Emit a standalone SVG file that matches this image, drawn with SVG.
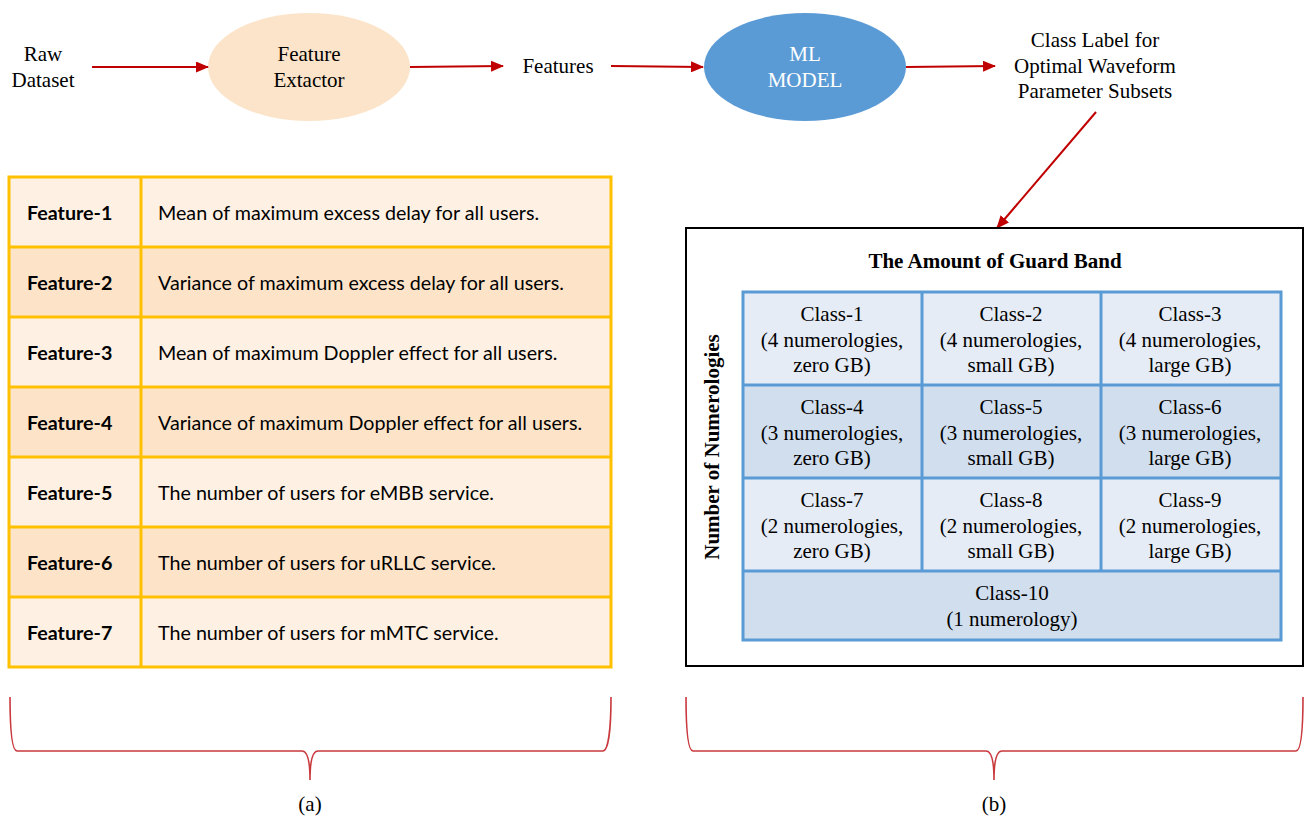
<svg xmlns="http://www.w3.org/2000/svg" width="1309" height="822" viewBox="0 0 1309 822">
<style>
.t{font-family:"Liberation Serif","Times New Roman",serif;font-size:21px;fill:#000;text-anchor:middle}
.tb{font-family:"Liberation Serif","Times New Roman",serif;font-size:21px;font-weight:bold;fill:#000;text-anchor:middle}
.fl{font-family:Lato,"Liberation Sans",sans-serif;font-size:19.7px;font-weight:bold;fill:#000}
.fd{font-family:Lato,"Liberation Sans",sans-serif;font-size:19.7px;fill:#000}
.arr{stroke:#C00000;stroke-width:2;fill:none;marker-end:url(#ah)}
.brace{stroke:#C8383C;stroke-width:1.6;fill:none}
.frow1{fill:#FEF1E3}
.frow2{fill:#FDE4C9}
.fgrid{stroke:#FFC000;stroke-width:3;fill:none}
.c1{fill:#E5ECF6}
.c2{fill:#D0DEEE}
.cgrid{stroke:#5B9BD5;stroke-width:3;fill:none}
</style>
<defs>
<marker id="ah" markerWidth="13" markerHeight="11" refX="12" refY="5.5" orient="auto" markerUnits="userSpaceOnUse" viewBox="0 0 13 11">
<path d="M0,0 L13,5.5 L0,11 Z" fill="#C00000"/>
</marker>
</defs>
<rect width="1309" height="822" fill="#fff"/>

<g id="raw-dataset">
<text class="t" x="43" y="61">Raw</text>
<text class="t" x="43" y="87">Dataset</text>
</g>
<g id="feature-extractor">
<ellipse cx="309" cy="67" rx="101" ry="54" fill="#FCE4CA"/>
<text class="t" x="309" y="61">Feature</text>
<text class="t" x="309" y="87">Extactor</text>
</g>
<g id="features">
<text class="t" x="558" y="73">Features</text>
</g>
<g id="ml-model">
<ellipse cx="805" cy="67" rx="101" ry="54" fill="#5B9BD5"/>
<text class="t" x="805" y="61" style="fill:#fff">ML</text>
<text class="t" x="805" y="87" style="fill:#fff">MODEL</text>
</g>
<g id="class-label">
<text class="t" x="1095" y="47">Class Label for</text>
<text class="t" x="1095" y="73">Optimal Waveform</text>
<text class="t" x="1095" y="98">Parameter Subsets</text>
</g>

<g id="connectors">
<line class="arr" x1="92" y1="67" x2="208" y2="67"/>
<line class="arr" x1="410" y1="67" x2="503" y2="66"/>
<line class="arr" x1="611" y1="66" x2="703" y2="67"/>
<line class="arr" x1="906" y1="67" x2="995" y2="66"/>
<line class="arr" x1="1096" y1="112" x2="997" y2="228"/>
</g>

<g id="feature-table">
<rect class="frow1" x="9" y="177" width="602" height="70"/>
<rect class="frow2" x="9" y="247" width="602" height="70"/>
<rect class="frow1" x="9" y="317" width="602" height="70"/>
<rect class="frow2" x="9" y="387" width="602" height="70"/>
<rect class="frow1" x="9" y="457" width="602" height="70"/>
<rect class="frow2" x="9" y="527" width="602" height="70"/>
<rect class="frow1" x="9" y="597" width="602" height="70"/>
<rect class="fgrid" x="9" y="177" width="602" height="490"/>
<path class="fgrid" d="M9,247H611M9,317H611M9,387H611M9,457H611M9,527H611M9,597H611M141,177V667"/>
<text class="fl" x="27" y="220">Feature-1</text>
<text class="fd" x="158" y="220">Mean of maximum excess delay for all users.</text>
<text class="fl" x="27" y="290">Feature-2</text>
<text class="fd" x="158" y="290">Variance of maximum excess delay for all users.</text>
<text class="fl" x="27" y="360">Feature-3</text>
<text class="fd" x="158" y="360">Mean of maximum Doppler effect for all users.</text>
<text class="fl" x="27" y="430">Feature-4</text>
<text class="fd" x="158" y="430">Variance of maximum Doppler effect for all users.</text>
<text class="fl" x="27" y="500">Feature-5</text>
<text class="fd" x="158" y="500">The number of users for eMBB service.</text>
<text class="fl" x="27" y="570">Feature-6</text>
<text class="fd" x="158" y="570">The number of users for uRLLC service.</text>
<text class="fl" x="27" y="640">Feature-7</text>
<text class="fd" x="158" y="640">The number of users for mMTC service.</text>
</g>

<g id="class-box">
<rect x="686" y="228" width="617" height="438" fill="#fff" stroke="#000" stroke-width="2"/>
<text class="tb" x="995" y="268">The Amount of Guard Band</text>
<text class="tb" x="0" y="0" transform="translate(719,447) rotate(-90)">Number of Numerologies</text>
<rect class="c1" x="743" y="292" width="538" height="93"/>
<rect class="c2" x="743" y="385" width="538" height="93"/>
<rect class="c1" x="743" y="478" width="538" height="93"/>
<rect class="c2" x="743" y="571" width="538" height="69"/>
<rect class="cgrid" x="743" y="292" width="538" height="348"/>
<path class="cgrid" d="M743,385H1281M743,478H1281M743,571H1281M922,292V571M1101,292V571"/>
<text class="t" x="832" y="321">Class-1</text>
<text class="t" x="832" y="347">(4 numerologies,</text>
<text class="t" x="832" y="372">zero GB)</text>
<text class="t" x="1011" y="321">Class-2</text>
<text class="t" x="1011" y="347">(4 numerologies,</text>
<text class="t" x="1011" y="372">small GB)</text>
<text class="t" x="1190" y="321">Class-3</text>
<text class="t" x="1190" y="347">(4 numerologies,</text>
<text class="t" x="1190" y="372">large GB)</text>
<text class="t" x="832" y="414">Class-4</text>
<text class="t" x="832" y="440">(3 numerologies,</text>
<text class="t" x="832" y="465">zero GB)</text>
<text class="t" x="1011" y="414">Class-5</text>
<text class="t" x="1011" y="440">(3 numerologies,</text>
<text class="t" x="1011" y="465">small GB)</text>
<text class="t" x="1190" y="414">Class-6</text>
<text class="t" x="1190" y="440">(3 numerologies,</text>
<text class="t" x="1190" y="465">large GB)</text>
<text class="t" x="832" y="507">Class-7</text>
<text class="t" x="832" y="533">(2 numerologies,</text>
<text class="t" x="832" y="558">zero GB)</text>
<text class="t" x="1011" y="507">Class-8</text>
<text class="t" x="1011" y="533">(2 numerologies,</text>
<text class="t" x="1011" y="558">small GB)</text>
<text class="t" x="1190" y="507">Class-9</text>
<text class="t" x="1190" y="533">(2 numerologies,</text>
<text class="t" x="1190" y="558">large GB)</text>
<text class="t" x="1012" y="600">Class-10</text>
<text class="t" x="1012" y="626">(1 numerology)</text>
</g>

<g id="brace-a">
<path class="brace" d="M10,697 C10,730 12,751 17,751 H302 C307,751 310,760 310,780 C310,760 313,751 318,751 H603 C608,751 611,730 611,697"/>
<text class="t" x="310" y="811">(a)</text>
</g>
<g id="brace-b">
<path class="brace" d="M686,697 C686,730 688,751 693,751 H986 C991,751 994,760 994,780 C994,760 997,751 1002,751 H1296 C1301,751 1303,730 1303,697"/>
<text class="t" x="994" y="811">(b)</text>
</g>
</svg>
